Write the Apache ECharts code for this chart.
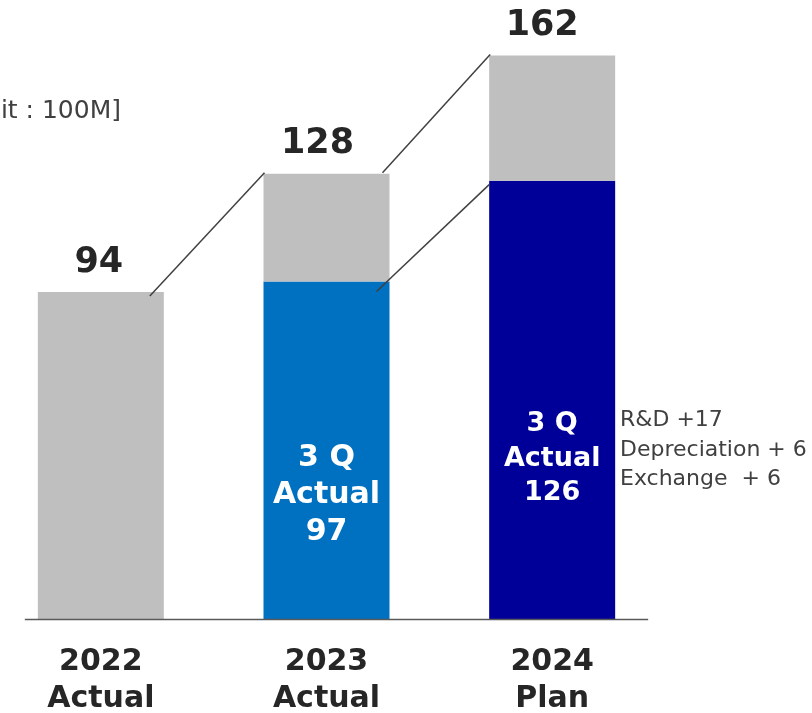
<!DOCTYPE html>
<html>
<head>
<meta charset="utf-8">
<script src="https://cdn.jsdelivr.net/npm/echarts@6/dist/echarts.min.js"></script>
<style>
  html, body { margin: 0; padding: 0; background: #fff; }
  #chart { width: 812px; height: 713px; }
</style>
</head>
<body>
<div id="chart"></div>
<script>
// Expense totals per fiscal year (unit: 100M)
const categories = ['2022\nActual', '2023\nActual', '2024\nPlan'];
const totals = [94, 128, 162];
// Q3 cumulative actuals (no breakdown for 2022)
const q3Actual = [null, 97, 126];
const q3Labels = ['', '3 Q\nActual\n97', '3 Q\nActual\n126'];
const drivers = ['R&D +17', 'Depreciation + 6', 'Exchange  + 6'];
const unitText = '[Unit : 100M]';

const remainder = totals.map((t, i) => q3Actual[i] == null ? t : t - q3Actual[i]);

const GRAY = '#bfbfbf';
const q3Colors = [GRAY, '#0070c0', '#000099'];
const FONT = 'DejaVu Sans';
const TEXT = '#262626';
const totalLabelShift = [-2, -9, -10];

const chart = echarts.init(document.getElementById('chart'));

const baseData = q3Actual.map((v, i) => {
  if (v == null) return '-';
  const big = i === 1;
  return {
    value: v,
    itemStyle: { color: q3Colors[i] },
    label: {
      show: true,
      position: 'inside',
      offset: big ? [0, 45] : [0, 59],
      formatter: q3Labels[i],
      color: '#fff',
      fontFamily: FONT,
      fontWeight: 'bold',
      fontSize: big ? 30 : 27,
      lineHeight: big ? 37 : 34.5
    }
  };
});

const restData = remainder.map((v, i) => ({
  value: v,
  label: { offset: [totalLabelShift[i], 0] }
}));

chart.setOption({
  animation: false,
  grid: {
    left: -12, right: 147, top: 27.6, bottom: 94,
    outerBoundsMode: 'none',
    containLabel: false
  },
  xAxis: {
    type: 'category',
    data: categories,
    axisLine: { show: false },
    axisTick: { show: false },
    axisLabel: {
      margin: 24,
      color: TEXT,
      fontFamily: FONT,
      fontWeight: 'bold',
      fontSize: 30,
      lineHeight: 37.5
    }
  },
  yAxis: {
    type: 'value',
    min: 0,
    max: 170,
    show: false,
    splitLine: { show: false }
  },
  series: [
    {
      name: 'q3',
      type: 'bar',
      stack: 'total',
      barWidth: 126,
      data: baseData
    },
    {
      name: 'rest',
      type: 'bar',
      stack: 'total',
      barWidth: 126,
      itemStyle: { color: GRAY },
      data: restData,
      label: {
        show: true,
        position: 'top',
        distance: 12,
        formatter: p => String(totals[p.dataIndex]),
        color: TEXT,
        fontFamily: FONT,
        fontWeight: 'bold',
        fontSize: 35
      }
    }
  ]
});

// Connector lines and baseline placed through the chart's own scales
const px = (i, v) => chart.convertToPixel({ gridIndex: 0 }, [i, v]);
const half = 63;
const lineStyle = { stroke: '#404040', lineWidth: 1.5 };
// start offsets (dx, dy) from each bar's centre-top
const startNudge = [[49, 4], [56, -1]];
const segments = [];
// top of each total to the next total
for (let i = 0; i < totals.length - 1; i++) {
  const a = px(i, totals[i]);
  const b = px(i + 1, totals[i + 1]);
  segments.push([a[0] + startNudge[i][0], a[1] + startNudge[i][1], b[0] - half + 1, b[1] - 1]);
}
// Q3 actual 2023 to Q3 actual 2024
{
  const a = px(1, q3Actual[1]);
  const b = px(2, q3Actual[2]);
  segments.push([a[0] + 50, a[1] + 10, b[0] - half, b[1] + 4]);
}
const zero0 = px(0, 0);
const zero2 = px(2, 0);

const graphics = segments.map(s => ({
  type: 'line',
  shape: { x1: s[0], y1: s[1], x2: s[2], y2: s[3] },
  style: lineStyle,
  z: 10
}));
graphics.push({
  type: 'line',
  shape: { x1: zero0[0] - 76, y1: zero0[1] + 0.5, x2: zero2[0] + 96, y2: zero2[1] + 0.5 },
  style: { stroke: '#595959', lineWidth: 1.5 },
  z: 10
});
graphics.push({
  type: 'text',
  x: 121, y: 111,
  style: {
    text: unitText,
    align: 'right',
    verticalAlign: 'middle',
    fill: '#404040',
    font: '25px "DejaVu Sans"'
  }
});
graphics.push({
  type: 'text',
  x: 620, y: 450,
  style: {
    text: drivers.join('\n'),
    align: 'left',
    verticalAlign: 'middle',
    lineHeight: 29.5,
    fill: '#404040',
    font: '22px "DejaVu Sans"'
  }
});
chart.setOption({ graphic: graphics });
</script>
</body>
</html>
